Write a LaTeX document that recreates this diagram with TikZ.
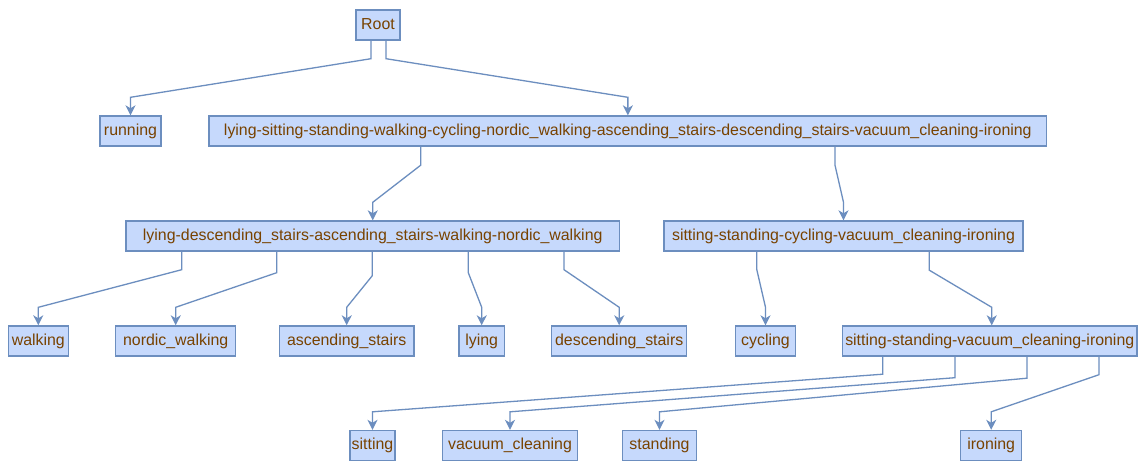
\documentclass[tikz,border=0pt]{standalone}
\usepackage{fontspec}
\setmainfont{Liberation Sans}
\usetikzlibrary{arrows.meta}
\definecolor{boxfill}{RGB}{198,217,252}
\definecolor{boxline}{RGB}{108,142,191}
\definecolor{labeltext}{RGB}{120,66,0}
\tikzset{
  cls/.style={draw=boxline, fill=boxfill, line width=1.4pt, rectangle,
    inner sep=0pt, minimum height=30pt, text=labeltext,
    font=\fontsize{15.9pt}{18pt}\selectfont, text height=11.6pt, text depth=3.4pt},
  edge/.style={draw=boxline, line width=1.3pt,
    -{Stealth[length=10pt,width=10pt,inset=3pt]}},
}
\begin{document}
\begin{tikzpicture}[x=1pt,y=-1pt]
\useasboundingbox[fill=white] (0,0) rectangle (1141,461);

% level 0 and 1
\node[cls, minimum width=44pt] (root) at (378,25) {Root};
\node[cls, minimum width=61pt] (run) at (130.5,131) {running};
\node[cls, minimum width=837.7pt] (all) at (627.85,131) {lying-sitting-standing-walking-cycling-nordic\_walking-ascending\_stairs-descending\_stairs-vacuum\_cleaning-ironing};

% level 2
\node[cls, minimum width=493.5pt] (ld) at (372.75,236) {lying-descending\_stairs-ascending\_stairs-walking-nordic\_walking};
\node[cls, minimum width=359pt] (ssc) at (843.5,236) {sitting-standing-cycling-vacuum\_cleaning-ironing};

% level 3
\node[cls, minimum width=60pt] (walk) at (38.3,341) {walking};
\node[cls, minimum width=120pt] (nord) at (175.7,341) {nordic\_walking};
\node[cls, minimum width=134.7pt] (asc) at (346.7,341) {ascending\_stairs};
\node[cls, minimum width=45.3pt] (lying) at (481.7,341) {lying};
\node[cls, minimum width=135pt] (desc) at (619.2,341) {descending\_stairs};
\node[cls, minimum width=60.4pt] (cyc) at (765.5,341) {cycling};
\node[cls, minimum width=294.5pt] (ssvi) at (989.75,341) {sitting-standing-vacuum\_cleaning-ironing};

% level 4
\node[cls, minimum width=45pt] (sit) at (372.5,445.5) {sitting};
\node[cls, minimum width=134.7pt] (vac) at (510,445.5) {vacuum\_cleaning};
\node[cls, minimum width=74.4pt] (stand) at (659.5,445.5) {standing};
\node[cls, minimum width=61pt] (iron) at (991.2,445.5) {ironing};

% connectors: drop from the parent, slant across, drop onto the child
\draw[edge] ([xshift=-7pt]root.south) -- ++(0,18) -- ([yshift=18pt]run.north) -- (run.north);
\draw[edge] ([xshift=8pt]root.south) -- ++(0,18) -- ([yshift=18pt]all.north) -- (all.north);

\draw[edge] ([xshift=-207.15pt]all.south) -- ++(0,18.5) -- ([yshift=18pt]ld.north) -- (ld.north);
\draw[edge] ([xshift=207.15pt]all.south) -- ++(0,18.5) -- ([yshift=18pt]ssc.north) -- (ssc.north);

\draw[edge] ([xshift=-191.05pt]ld.south) -- ++(0,18) -- ([yshift=18pt]walk.north) -- (walk.north);
\draw[edge] ([xshift=-96.05pt]ld.south) -- ++(0,21) -- ([yshift=18pt]nord.north) -- (nord.north);
\draw[edge] ([xshift=-0.45pt]ld.south) -- ++(0,24) -- ([yshift=18pt]asc.north) -- (asc.north);
\draw[edge] ([xshift=95.55pt]ld.south) -- ++(0,21) -- ([yshift=18pt]lying.north) -- (lying.north);
\draw[edge] ([xshift=191.25pt]ld.south) -- ++(0,18) -- ([yshift=18pt]desc.north) -- (desc.north);

\draw[edge] ([xshift=-86.8pt]ssc.south) -- ++(0,17.5) -- ([yshift=18pt]cyc.north) -- (cyc.north);
\draw[edge] ([xshift=85.8pt]ssc.south) -- ++(0,18.5) -- ([xshift=2pt,yshift=18pt]ssvi.north) -- ([xshift=2pt]ssvi.north);

\draw[edge] ([xshift=-107pt]ssvi.south) -- ++(0,17.5) -- ([yshift=18pt]sit.north) -- (sit.north);
\draw[edge] ([xshift=-34.75pt]ssvi.south) -- ++(0,21) -- ([yshift=18pt]vac.north) -- (vac.north);
\draw[edge] ([xshift=37.25pt]ssvi.south) -- ++(0,21.5) -- ([yshift=18pt]stand.north) -- (stand.north);
\draw[edge] ([xshift=109.25pt]ssvi.south) -- ++(0,18) -- ([yshift=18pt]iron.north) -- (iron.north);
\end{tikzpicture}
\end{document}
